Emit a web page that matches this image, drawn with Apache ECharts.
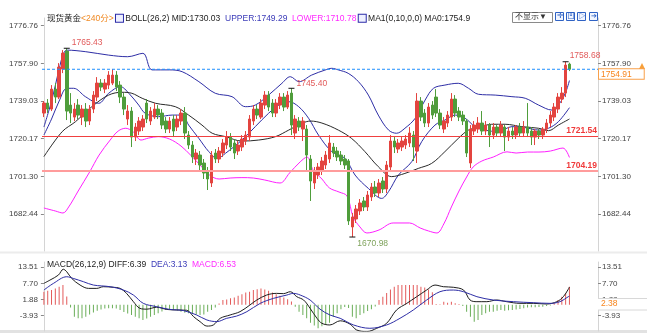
<!DOCTYPE html>
<html>
<head>
<meta charset="utf-8">
<script src="https://cdn.jsdelivr.net/npm/echarts@6/dist/echarts.min.js"></script>
<style>
html,body{margin:0;padding:0;background:#fff;}
#c{width:647px;height:333px;}
</style>
</head>
<body>
<div id="c"></div>
<script>
// ---- 4-hour spot gold bars: [open, close, low, high] ----
const candles = [
[1733,1738,1731,1739],[1738,1735,1733,1740],[1735,1745,1734,1747],[1745,1741,1738,1748],
[1741,1756,1740,1758],[1755,1763,1753,1764.5],[1764,1734,1729.5,1765.43],[1737,1733,1728,1743],
[1731,1735,1729,1738],[1737,1732,1730,1740],[1731,1735,1727,1737],[1735,1729,1726,1738],
[1729,1735,1727,1737],[1735,1742,1733,1744],[1741,1748,1739,1751],[1748,1746,1744,1750],
[1745,1748,1743,1750],[1747,1752,1745,1754],[1748,1752,1747,1755],[1752,1746,1744,1754],
[1747,1741,1738,1749],[1741,1735,1732,1743],[1730,1734,1727,1737],[1734,1721,1716,1736],
[1721,1726,1719,1728],[1724,1729,1722,1731],[1726,1730,1724,1732],[1738,1730,1728,1740],
[1729,1734,1727,1736],[1731,1735,1730,1738],[1735,1732,1730,1737],[1733,1727,1725,1735],
[1729,1725,1723,1731],[1725,1729,1723,1731],[1730,1724,1721,1732],[1726,1730,1724,1732],
[1729,1733,1727,1735],[1733,1723,1720,1736],[1722,1717,1715,1724],[1717,1711,1708,1719],
[1710,1713,1707,1715],[1712,1707,1704,1714],[1708,1703,1700,1710],[1704,1700,1694.5,1706],
[1698,1712,1696,1714],[1713,1710,1708,1715],[1710,1714,1708,1716],[1713,1718,1711,1720],
[1717,1721,1715,1724],[1721,1716,1714,1723],[1718,1713,1710,1720],[1714,1717,1712,1719],
[1716,1720,1714,1722],[1719,1722,1717,1724],[1721,1730,1719,1732],[1729,1735,1727,1737],
[1735,1732,1730,1737],[1731,1738,1730,1740],[1737,1742,1735,1744],[1742,1736,1734,1744],
[1738,1733,1731,1740],[1733,1738,1731,1740],[1737,1741,1735,1743],[1741,1736,1734,1743],
[1736,1742,1735,1744],[1743,1727,1722,1745.40],[1723,1730,1720,1732],[1729,1726,1724,1731],
[1725,1729,1719,1731],[1725,1712,1704,1727],[1710,1699,1689,1712],[1698,1704,1695,1706],
[1702,1706,1700,1708],[1704,1709,1702,1711],[1707,1712,1705,1714],[1710,1718,1708,1722],
[1716,1713,1711,1718],[1714,1711,1709,1716],[1712,1709,1707,1714],[1710,1707,1705,1712],
[1709,1679,1677,1710],[1676,1681,1670.98,1683],[1680,1685,1678,1687],[1684,1688,1682,1690],
[1689,1686,1684,1691],[1686,1692,1684,1694],[1691,1696,1689,1698],[1696,1693,1691,1699],
[1693,1698,1691,1700],[1699,1695,1693,1701],[1695,1707,1693,1709],[1706,1719,1704,1722],
[1719,1716,1713,1721],[1715,1718,1713,1720],[1716,1719,1714,1721],[1717,1720,1715,1722],
[1718,1723,1716,1726],[1722,1716,1709,1724],[1714,1739,1708,1743],[1739,1731,1729,1741],
[1733,1728,1726,1735],[1728,1736,1726,1738],[1737,1732,1730,1739],[1741,1733,1731,1745],
[1733,1727,1725,1735],[1725,1729,1723,1731],[1728,1732,1726,1734],[1731,1740,1729,1743],
[1740,1733,1731,1742],[1734,1731,1729,1736],[1732,1729,1727,1734],[1729,1713,1711,1730],
[1708,1725,1705.5,1727],[1724,1727,1722,1729],[1725,1728,1723,1731],[1728,1724,1722,1734],
[1724,1727,1722,1729],[1727,1722,1716,1728],[1722,1726,1720,1728],[1726,1723,1721,1727],
[1723,1727,1721,1729],[1726,1721,1714,1727],[1721,1724,1719,1726],[1724,1722,1720,1726],
[1722,1726,1720,1727],[1726,1723,1721,1728],[1723,1726,1721,1729],[1726,1723,1721,1738],
[1724,1721,1717,1726],[1721,1724,1717,1725],[1724,1722,1720,1725],[1722,1725,1720,1726],
[1725,1728,1723,1730],[1728,1732,1726,1734],[1731,1736,1729,1738],[1735,1741,1733,1743],
[1740,1743,1738,1746],[1743,1757,1741,1758.68],[1757.5,1754.91,1754,1758.2]
];

// ---- indicator lines, sampled as [bar position, value] ----
const bollUpper = [[0,1726],[2,1739],[4,1755],[5,1762],[6,1764.5],[11,1763.7],[17,1762],[22,1761.2],
[26,1762.9],[28.4,1754.6],[33,1754.6],[36.3,1753.7],[40.7,1748.7],[45,1742.9],[49.4,1741.2],[52.9,1736.2],
[55.5,1737],[59,1742],[62.5,1747.9],[64.7,1751.2],[67,1748.7],[70.3,1752],[73.8,1754.5],[75.6,1755.4],
[77.3,1754.6],[79.9,1752.9],[82.6,1748.7],[85.2,1742],[87.8,1732],[90.5,1724.5],[92.6,1722.9],[94.8,1725.4],
[97.5,1730.4],[100.1,1739.5],[102.3,1745.4],[105.3,1747],[108.8,1747.9],[111.5,1745.4],[114.1,1742.4],
[118.5,1742],[122.9,1741.2],[126.4,1740.4],[129.9,1737],[133.4,1734.5],[135.1,1737],[136.9,1742.9],[138,1749.29]];

const ma10 = [[0,1722],[2,1730],[4,1739],[6,1745.4],[7.8,1745.4],[10.9,1741.2],[14.4,1737.9],[17,1742.9],
[20.1,1746.2],[22.3,1742.9],[24.9,1737],[26.6,1732.9],[30.1,1731.2],[33.7,1732],[36.3,1732],[38,1727],
[40.7,1720.3],[43.3,1713.7],[45.5,1710.3],[47.7,1712.9],[52,1719.5],[55.5,1726.2],[59,1732.9],[61.7,1737],
[64.3,1738.7],[66.9,1736.2],[69.5,1730.4],[72.1,1722],[75.6,1713.7],[79.1,1710.3],[81.7,1702],[85.2,1695.3],
[88.7,1690.3],[90.5,1693.7],[93.1,1702],[96.6,1708.7],[99.2,1718.7],[102.7,1727],[105.3,1729.5],[108,1732],
[110.6,1730.4],[113.2,1726.2],[115.8,1724.5],[119.3,1723.7],[122.9,1726.2],[126.4,1725.7],[129.9,1724.5],
[132.5,1725.4],[135.1,1728.7],[138,1735.7]];

const bollMid = [[0,1711.2],[4.8,1723.7],[8.3,1728.7],[12.6,1736.2],[17,1742],[20.5,1743.4],[23.1,1742.9],
[25.8,1740.4],[29.3,1737.9],[34.5,1736.2],[38,1732],[41.5,1727],[44.2,1722.9],[47.7,1721.2],[52,1719],
[56.4,1719.5],[60.8,1721.2],[64.3,1724.5],[67.8,1727.9],[70,1729],[73,1728],[77.3,1724.5],[80.8,1720.3],
[84.3,1713.7],[87.8,1706.2],[91.3,1701.2],[94.8,1702.8],[98.3,1705.3],[101.8,1707.8],[105.3,1713.7],
[108.8,1720.3],[111.5,1724.5],[114.1,1725.7],[117.6,1727.4],[121.1,1727.4],[125.5,1726.2],[129.9,1725.4],
[132.5,1724.2],[135.1,1727],[138,1730.03]];

const bollLower = [[0,1685.5],[3,1684],[5,1683],[6.5,1686],[9,1694],[12,1703.5],[14.5,1712],[17.4,1719.5],
[19.5,1724],[21.5,1725.4],[23.5,1723.5],[25.5,1719.5],[27.5,1720.5],[30,1721.2],[33,1720],[36,1716.5],
[38.5,1712],[41,1707],[43.5,1702],[46,1700],[48.9,1700.5],[52,1700.7],[55,1700.5],[58,1699.5],[62,1698],
[64.5,1703],[67.3,1708.6],[69.1,1711],[70.7,1704.5],[73,1700],[75,1695.5],[77.5,1693.5],[79.6,1691.5],
[81.2,1681],[83,1676],[84.8,1673],[88,1674.5],[91.7,1678],[96,1678],[98.8,1675.5],[101,1674],[103.2,1673],
[105,1677.5],[107,1686],[109,1694],[111,1701],[112.7,1706],[115,1709],[118,1711],[121.6,1713.6],[124,1713],
[127,1713.5],[130,1713.5],[133,1714],[136.3,1715.5],[138,1710.78]];

// ---- MACD(26,12,9) ----
const macdHist = [4.7,5.0,5.3,5.9,6.5,7.1,3.0,-1.0,-4.3,-4.9,-4.9,-4.3,-3.5,-2.8,-2.2,-1.7,-1.4,-1.3,-1.3,-1.4,
-1.9,-2.6,-3.2,-3.7,-4.3,-4.9,-5.5,-5.0,-4.3,-3.7,-3.1,-2.4,-1.9,-1.9,-1.9,-2.1,-2.5,-2.9,-3.1,-3.3,
-3.5,-3.7,-3.5,-2.5,-1.9,-1.0,0.4,1.7,1.9,2.3,2.6,3.2,3.8,4.4,4.7,5.3,5.6,5.9,5.5,5.0,
4.4,3.8,3.2,2.6,2.0,1.2,-0.7,-2.5,-3.7,-4.9,-6.5,-7.5,-8.5,-7.8,-7.3,-6.5,-4.3,-3.1,-1.6,-0.8,
-1.2,-4.3,-4.9,-3.7,-3.1,-2.3,-1.6,-0.6,1.7,2.9,4.2,5.5,6.5,7.1,7.1,7.1,7.1,7.1,7.1,6.5,
6.2,5.5,4.5,0.3,0.2,1.1,0.7,1.1,0.5,0.3,-0.5,-2.5,-4.3,-6.1,-5.5,-3.7,-3.1,-2.5,-2.5,-2.2,
-1.9,-2.2,-2.0,-1.9,-1.7,-1.5,-1.3,-1.0,-0.9,-0.9,-0.8,-0.7,-0.5,-0.3,0.5,1.7,2.9,4.1,6.53];

const macdDiff = [[0,7.72],[1.6,8.9],[3.8,10.7],[5.1,12.8],[6,11.9],[7.3,9.5],[9.5,7.1],[11.7,5.9],[13.9,5.9],
[15.6,6.5],[18.2,6.3],[20,5.9],[21.7,4.1],[23.5,1.1],[25.2,-1.3],[27,-1.6],[29.6,-0.9],[32.3,-1.7],[34.9,-1.9],
[37.5,-2.0],[39.3,-4.3],[41,-6.1],[42.8,-7.7],[44.5,-7.3],[46.3,-4.9],[48.9,-3.7],[51.5,-2.5],[54.1,-0.1],
[55.9,1.7],[58.5,3.5],[61.1,4.1],[62.9,4.0],[64.7,4.7],[66.4,2.9],[68.2,1.7],[69.9,-1.3],[71.7,-4.9],[73,-6.7],
[75.1,-7.3],[77.8,-5.8],[80.4,-7.0],[82.1,-9.1],[84.8,-9.7],[87.4,-8.5],[90,-6.7],[92.6,-1.9],[95.3,0.5],
[97.9,2.9],[100.5,5.3],[102.7,7.1],[104.9,6.5],[107.5,6.3],[110.2,5.3],[111.9,1.7],[113.7,1.1],[116.3,1.1],
[118.9,1.7],[121.5,1.1],[125,0.5],[128.5,0.5],[132,0.26],[134.7,1.1],[136.4,2.9],[137.7,5.6],[138,6.39]];

const macdDea = [[0,5.3],[2.5,7.7],[6,10.1],[7.7,9.5],[10.4,8.3],[13,7.1],[17.4,6.5],[20.9,5.3],[23.5,3.5],
[26.1,0.5],[29.6,-0.7],[33.1,-1.7],[36.6,-2.1],[40.1,-3.7],[42.8,-5.5],[45.4,-6.1],[48,-4.9],[50.6,-4.1],
[53.3,-2.5],[56.8,0.5],[60.3,2.3],[63.8,3.5],[65.5,4.1],[67.3,3.5],[69.9,1.7],[72.5,-1.6],[75.1,-3.7],
[77.8,-4.9],[81.3,-7.3],[85.6,-8.5],[90,-7.3],[93.5,-4.9],[97,-1.9],[100.5,1.7],[104,4.7],[107.5,5.3],
[110.2,4.7],[113.7,2.9],[118,1.7],[123.3,1.1],[128.5,0.74],[132.9,0.5],[135.5,1.1],[137.7,2.9],[138,3.13]];

// ---- axis ticks and reference levels ----
const priceTicks = [1682.44, 1701.30, 1720.17, 1739.03, 1757.90, 1776.76];
const macdTicks = [-3.93, 1.88, 7.70, 13.51];
const levelLines = [1721.54, 1704.19];
const peakBars = [6, 65, 137];
const troughBars = [81];

const FONT = '"Liberation Sans", "Noto Sans CJK SC", sans-serif';
const SLOTS = 146;               // bar slots across the plot (right side left open)
const slotNames = Array.from({length: SLOTS}, (_, i) => String(i));
const lastOf = a => a[a.length - 1];
const last = a => lastOf(a)[1];
const lastClose = lastOf(candles)[1];

const UP = '#e3443f', DOWN = '#4f9d3b', BLUE = '#2e2ea6';

function priceAxis(pos) {
  return {
    type: 'value', gridIndex: 0, position: pos, min: 1663.98, max: 1780.57,
    axisLine: {show: true, lineStyle: {color: '#d4d4d4'}},
    axisTick: {show: true, length: 3, customValues: priceTicks, lineStyle: {color: '#888'}},
    axisLabel: {customValues: priceTicks, formatter: v => v.toFixed(2), fontSize: 8,
                color: '#444', margin: 4, fontFamily: FONT},
    splitLine: {show: false}
  };
}
function macdAxis(pos) {
  return {
    type: 'value', gridIndex: 1, position: pos, min: -9.48, max: 15.42,
    axisLine: {show: true, lineStyle: {color: '#d4d4d4'}},
    axisTick: {show: true, length: 3, customValues: macdTicks, lineStyle: {color: '#888'}},
    axisLabel: {customValues: macdTicks, formatter: v => v.toFixed(2), fontSize: 8,
                color: '#444', margin: 4, fontFamily: FONT},
    splitLine: {show: false}
  };
}
function lineSeries(name, data, color, xi, yi) {
  return {
    name, type: 'line', xAxisIndex: xi, yAxisIndex: yi, data,
    showSymbol: false, smooth: 0.35, silent: true, animation: false,
    lineStyle: {color, width: 1}, z: 3
  };
}

const peakPoints = peakBars.map((i, k) => ({
  coord: [i, candles[i][3]], value: candles[i][3],
  label: {position: k === 0 ? [8, -9] : (k === 1 ? [8, -8] : [7, -10])}
}));
const troughPoints = troughBars.map(i => ({
  coord: [i, candles[i][2]], value: candles[i][2],
  label: {position: [8, 3], color: '#7fa35c'}
}));

const option = {
  animation: false,
  backgroundColor: '#fff',
  title: [
    {
      left: 42, top: 9,
      text: '{a|现货黄金}{o|<240分>} {i| } {k|BOLL(26,2) MID:' + last(bollMid).toFixed(2) + '}  {u|UPPER:' +
            last(bollUpper).toFixed(2) + '}  {m|LOWER:' + last(bollLower).toFixed(2) + '} {i| } {k|MA1(0,10,0,0) MA0:' +
            lastClose.toFixed(1) + '}',
      textStyle: {
        fontSize: 8.5, fontFamily: FONT, fontWeight: 'normal',
        rich: {
          a: {fontSize: 8.5, color: '#222', fontFamily: FONT},
          o: {fontSize: 8.5, color: '#f08a24', fontFamily: FONT},
          k: {fontSize: 8.5, color: '#222', fontFamily: FONT},
          u: {fontSize: 8.5, color: '#3a3ab8', fontFamily: FONT},
          m: {fontSize: 8.5, color: '#ff2bff', fontFamily: FONT},
          i: {width: 7, height: 7, borderColor: '#2b2ba8', borderWidth: 1, backgroundColor: '#eef0ff'}
        }
      }
    },
    {
      left: 42, top: 255,
      text: '{k|MACD(26,12,9) DIFF:' + last(macdDiff).toFixed(2) + '}  {d|DEA:' + last(macdDea).toFixed(2) +
            '}  {m|MACD:' + lastOf(macdHist).toFixed(2) + '}',
      textStyle: {
        fontSize: 8.5, fontFamily: FONT, fontWeight: 'normal',
        rich: {
          k: {fontSize: 8.5, color: '#222', fontFamily: FONT},
          d: {fontSize: 8.5, color: '#3a3ab8', fontFamily: FONT},
          m: {fontSize: 8.5, color: '#ff2bff', fontFamily: FONT}
        }
      }
    }
  ],
  grid: [
    {left: 42, right: 49, top: 18, height: 233},
    {left: 42, right: 49, top: 262, height: 69}
  ],
  xAxis: [
    {type: 'category', gridIndex: 0, data: slotNames, boundaryGap: true, show: false},
    {type: 'value', gridIndex: 0, min: -0.5, max: SLOTS - 0.5, show: false},
    {type: 'category', gridIndex: 1, data: slotNames, boundaryGap: true, show: false},
    {type: 'value', gridIndex: 1, min: -0.5, max: SLOTS - 0.5, show: false}
  ],
  yAxis: [priceAxis('left'), priceAxis('right'), macdAxis('left'), macdAxis('right')],
  series: [
    lineSeries('UPPER', bollUpper, BLUE, 1, 0),
    lineSeries('MA10', ma10, BLUE, 1, 0),
    lineSeries('MID', bollMid, '#2a2a2a', 1, 0),
    lineSeries('LOWER', bollLower, '#ff1fff', 1, 0),
    {
      name: '现货黄金', type: 'candlestick', xAxisIndex: 0, yAxisIndex: 0,
      data: candles, barWidth: 3, z: 4,
      itemStyle: {color: UP, color0: DOWN, borderColor: UP, borderColor0: DOWN, borderWidth: 1},
      markPoint: {
        symbol: 'rect', symbolSize: [6, 1], silent: true,
        itemStyle: {color: '#111'},
        label: {show: true, formatter: p => p.value.toFixed(2), color: '#e25b5b',
                fontSize: 8.5, fontFamily: FONT},
        data: peakPoints.concat(troughPoints)
      },
      markLine: {
        symbol: 'none', silent: true,
        lineStyle: {color: '#f04040', type: 'solid', width: 1},
        data: [
          {yAxis: levelLines[0],
           label: {show: true, position: 'insideEndTop', distance: [1, 1], formatter: levelLines[0].toFixed(2),
                   color: '#f03a3a', fontWeight: 'bold', fontSize: 8.5, fontFamily: FONT}},
          {yAxis: levelLines[1],
           lineStyle: {color: '#ff9c9c', type: 'solid', width: 2},
           label: {show: true, position: 'insideEndTop', distance: [1, 1], formatter: levelLines[1].toFixed(2),
                   color: '#f03a3a', fontWeight: 'bold', fontSize: 8.5, fontFamily: FONT}}
        ]
      }
    },
    {
      // last-price guide across the whole plot, tagged at its right end
      name: 'LAST', type: 'line', xAxisIndex: 1, yAxisIndex: 0, silent: true, z: 6,
      data: [[-0.5, lastClose], [SLOTS - 0.5, lastClose]],
      showSymbol: false,
      lineStyle: {color: '#1f8fff', type: [3, 2], width: 1},
      endLabel: {show: true, distance: 1, formatter: lastClose.toFixed(2),
                 color: '#f7851d', fontSize: 8.5, fontFamily: FONT, backgroundColor: '#fff',
                 borderColor: '#f9a04a', borderWidth: 1, padding: [1, 12, 0, 2],
                 verticalAlign: 'top', offset: [0, 0]}
    },
    {
      name: 'MACD', type: 'bar', xAxisIndex: 2, yAxisIndex: 2, data: macdHist, barWidth: 1,
      silent: true,
      itemStyle: {color: p => (p.value >= 0 ? '#e35a5a' : '#6aae58')}
    },
    lineSeries('DIFF', macdDiff, '#1e1e1e', 3, 2),
    lineSeries('DEA', macdDea, BLUE, 3, 2)
  ],
  graphic: [
    {type: 'line', shape: {x1: 0, y1: 252.5, x2: 647, y2: 252.5}, style: {stroke: '#ececec', lineWidth: 2}, silent: true},
    {type: 'line', shape: {x1: 0, y1: 331.5, x2: 647, y2: 331.5}, style: {stroke: '#e2e2e2', lineWidth: 3}, silent: true},
    // toolbar at top right
    {type: 'rect', shape: {x: 512.5, y: 12.5, width: 40, height: 10}, style: {fill: '#fff', stroke: '#8a8a8a', lineWidth: 1}, silent: true},
    {type: 'text', x: 515, y: 13, style: {text: '不显示▼', fontSize: 8, fill: '#333', fontFamily: FONT}, silent: true},
    {type: 'rect', shape: {x: 555.5, y: 12.5, width: 8, height: 8}, style: {fill: '#f2f6ff', stroke: '#2f62c4'}, silent: true},
    {type: 'text', x: 556.5, y: 12.2, style: {text: '✛', fontSize: 8, fill: '#2f62c4', fontFamily: FONT}, silent: true},
    {type: 'rect', shape: {x: 566.5, y: 12.5, width: 8, height: 8}, style: {fill: '#f2f6ff', stroke: '#2f62c4'}, silent: true},
    {type: 'text', x: 567.5, y: 12.2, style: {text: '凹', fontSize: 7, fill: '#2f62c4', fontFamily: FONT}, silent: true},
    {type: 'rect', shape: {x: 577.5, y: 12.5, width: 8, height: 8}, style: {fill: '#f2f6ff', stroke: '#2f62c4'}, silent: true},
    {type: 'text', x: 578.5, y: 12.5, style: {text: '▷', fontSize: 7, fill: '#2f62c4', fontFamily: FONT}, silent: true},
    {type: 'rect', shape: {x: 589.5, y: 12.5, width: 8, height: 8}, style: {fill: '#f2f6ff', stroke: '#2f62c4'}, silent: true},
    {type: 'text', x: 590.5, y: 12.5, style: {text: '➔', fontSize: 7, fill: '#2f62c4', fontFamily: FONT}, silent: true},
    // small marker beside the last price tag
    {type: 'polygon', shape: {points: [[639, 69], [642, 63], [645, 69]]}, style: {fill: '#f7a03a'}, silent: true},
    // MACD current readout tag
    {type: 'rect', shape: {x: 598, y: 298.5, width: 49, height: 11.5}, style: {fill: '#fff', stroke: null}, silent: true, z: 100},
    {type: 'line', shape: {x1: 598, y1: 298.5, x2: 647, y2: 298.5}, style: {stroke: '#d8d8d8', lineWidth: 1}, silent: true, z: 100},
    {type: 'line', shape: {x1: 598, y1: 310, x2: 647, y2: 310}, style: {stroke: '#d8d8d8', lineWidth: 1}, silent: true, z: 100},
    {type: 'text', x: 601, y: 299.5, style: {text: '2.38', fontSize: 8.5, fill: '#f7851d', fontFamily: FONT}, silent: true, z: 101}
  ]
};

const chart = echarts.init(document.getElementById('c'));
chart.setOption(option);
</script>
</body>
</html>
